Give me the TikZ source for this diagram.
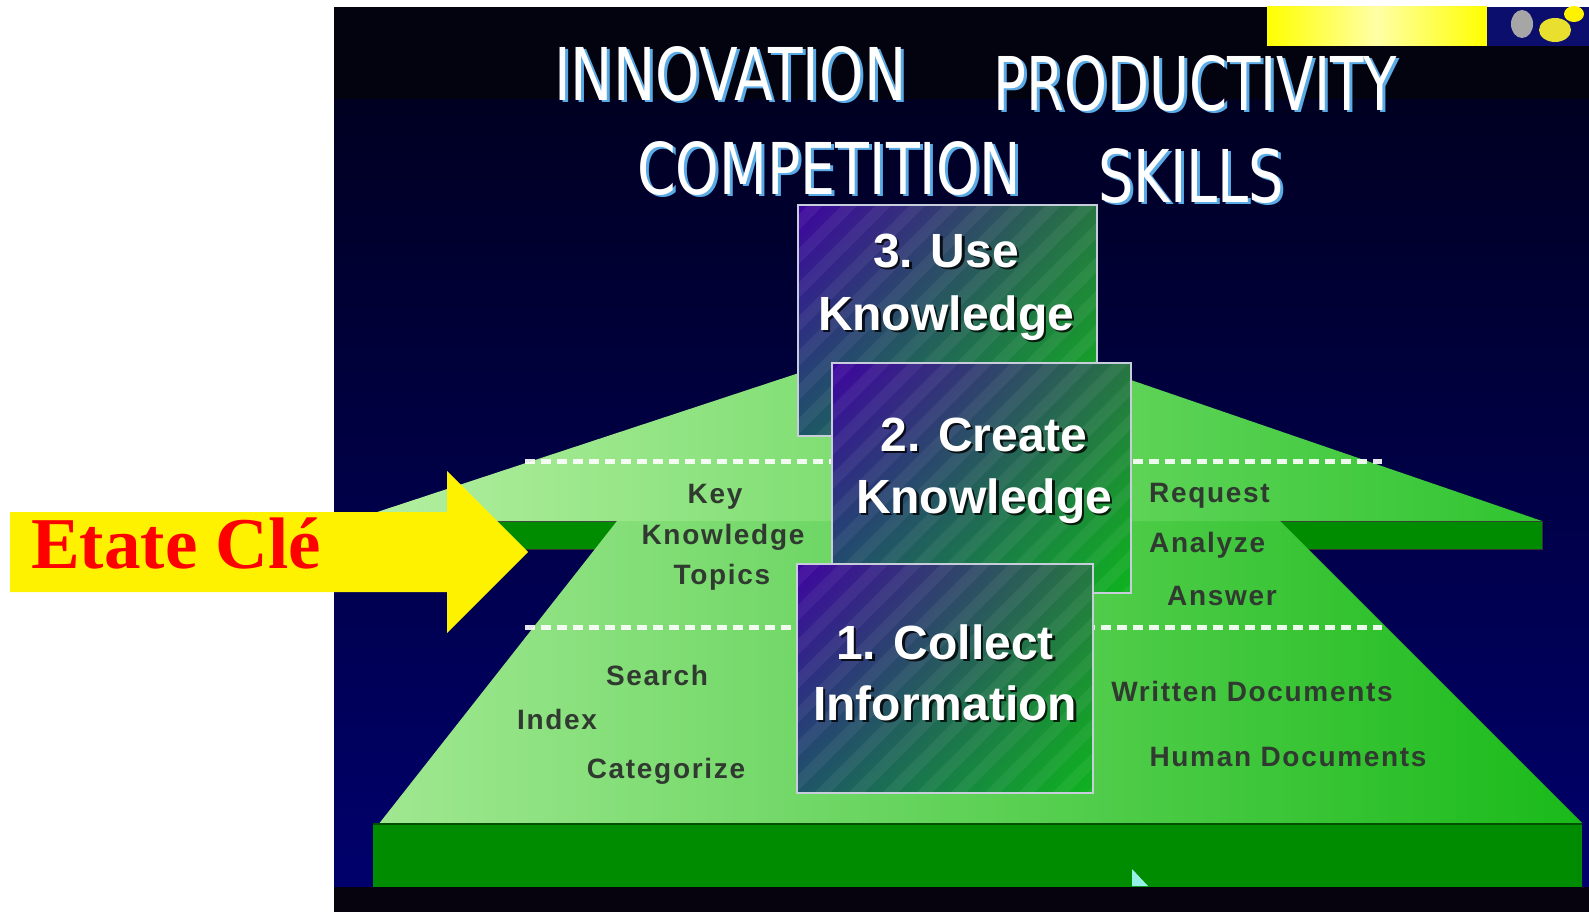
\documentclass[tikz,border=0pt]{standalone}
\usepackage{fontspec}
\usepackage{graphicx}
\usetikzlibrary{shadings}
\newfontfamily\boxfont{Liberation Sans}
\newfontfamily\lblfont[LetterSpace=6]{Liberation Sans}
\newfontfamily\redfont{Liberation Serif}
\newfontfamily\ttlfont{DejaVu Sans}
\definecolor{bgtop}{RGB}{3,3,16}
\definecolor{bgmid}{RGB}{0,0,34}
\definecolor{bgbot}{RGB}{0,0,108}
\definecolor{bgend}{RGB}{6,2,14}
\definecolor{navy}{RGB}{12,14,110}
\definecolor{tierhi}{RGB}{182,240,162}
\definecolor{tierlo}{RGB}{48,196,48}
\definecolor{lowhi}{RGB}{160,232,145}
\definecolor{lowlo}{RGB}{26,186,26}
\definecolor{slab}{RGB}{0,140,0}
\definecolor{slabrim}{RGB}{0,80,0}
\definecolor{boxul}{RGB}{62,4,160}
\definecolor{boxur}{RGB}{38,118,66}
\definecolor{boxll}{RGB}{30,84,104}
\definecolor{boxlr}{RGB}{14,180,30}
\definecolor{boxrim}{RGB}{200,205,220}
\definecolor{lbltxt}{RGB}{48,58,48}
\definecolor{ttlshade}{RGB}{90,170,230}
\definecolor{cursorcol}{RGB}{150,240,230}
\begin{document}
\begin{tikzpicture}[x=1pt,y=-1pt,
  boxtxt/.style={anchor=base,inner sep=0pt,text=white,font=\boxfont\bfseries\fontsize{48}{50}\selectfont},
  boxshadow/.style={boxtxt,text=black,opacity=.8},
  lbl/.style={anchor=base,inner sep=0pt,text=lbltxt,font=\lblfont\bfseries\fontsize{28}{30}\selectfont},
  dashline/.style={white,line width=5pt,dash pattern=on 10pt off 6pt,opacity=.9},
  boxedge/.style={draw=boxrim,line width=1.5pt},
  ttl/.style={anchor=south west,inner sep=0pt,text=white,font=\ttlfont},
  ttlback/.style={ttl,text=ttlshade}]
\useasboundingbox (0,0) rectangle (1589,912);
\newcommand\kbox[4]{
\begin{scope}
\clip (#1,#2) rectangle (#3,#4);
\shade[upper left=boxul,upper right=boxur,lower left=boxll,lower right=boxlr] (#1,#2) rectangle (#3,#4);
\foreach \s in {0,34,...,640}
  \draw[white,opacity=.06,line width=11pt] (#1-320+\s,#4+5) -- ++(330,-330);
\end{scope}
\draw[boxedge] (#1,#2) rectangle (#3,#4);
}
\newcommand\ttlword[6]{
\node[ttlback] (#1-back) at (#2+3,#3+2) {\resizebox{#4pt}{#5pt}{#6}};
\node[ttl] (#1) at (#2,#3) {\resizebox{#4pt}{#5pt}{#6}};
}
% background
\fill[white] (0,0) rectangle (1589,912);
\fill[bgtop] (334,7) rectangle (1589,100);
\shade[top color=bgmid,bottom color=bgbot] (334,100) rectangle (1589,887);
\fill[bgend] (334,887) rectangle (1589,912);
% corner picture
\shade[left color=yellow,right color=yellow,middle color=yellow!35!white] (1267,7) rectangle (1487,46);
\fill[navy] (1487,7) rectangle (1589,46);
\fill[gray!70] (1522,24) ellipse (11 and 14);
\fill[yellow!80!gray] (1555,30) ellipse (16 and 12);
\fill[yellow] (1574,14) ellipse (10 and 8);
% pyramid
\fill[slab,draw=black!80,line width=1pt] (350,521) rectangle (1542,549);
\shade[left color=lowhi,right color=lowlo] (617,521) -- (1280,521) -- (1582,823) -- (378,825) -- cycle;
\fill[slab] (373,823) rectangle (1582,887);
\draw[slabrim,line width=2.5pt] (373,824) -- (1582,824);
\shade[left color=tierhi,right color=tierlo] (805,371) -- (350,521) -- (1542,521) -- (1125,378) -- cycle;
\draw[dashline] (525,461) -- (1382,461);
\draw[dashline] (525,627) -- (1382,627);
% labels
\node[lbl] (key) at (715,503) {Key};
\node[lbl] (keyknow) at (723,544) {Knowledge};
\node[lbl] (topics) at (722,584) {Topics};
\node[lbl,anchor=base west] (request) at (1149,502) {Request};
\node[lbl,anchor=base west] (analyze) at (1149,552) {Analyze};
\node[lbl,anchor=base west] (answer) at (1167,605) {Answer};
\node[lbl] (search) at (657,685) {Search};
\node[lbl] (index) at (557,729) {Index};
\node[lbl] (categorize) at (666,778) {Categorize};
\node[lbl] (written) at (1252,701) {Written Documents};
\node[lbl] (human) at (1288,766) {Human Documents};
% steps
\kbox{798}{205}{1097}{436}
\node[boxshadow] at (948.5,269.5) {3. Use};
\node[boxtxt] (use1) at (946,267) {3. Use};
\node[boxshadow] at (948.5,332.5) {Knowledge};
\node[boxtxt] (use2) at (946,330) {Knowledge};
\kbox{832}{363}{1131}{593}
\node[boxshadow] at (986.5,453.5) {2. Create};
\node[boxtxt] (create1) at (984,451) {2. Create};
\node[boxshadow] at (986.5,515.5) {Knowledge};
\node[boxtxt] (create2) at (984,513) {Knowledge};
\kbox{797}{564}{1093}{793}
\node[boxshadow] at (947.5,661.5) {1. Collect};
\node[boxtxt] (collect1) at (945,659) {1. Collect};
\node[boxshadow] at (947.5,722.5) {Information};
\node[boxtxt] (collect2) at (945,720) {Information};
% title words
\ttlword{innovation}{554}{102}{352}{54}{INNOVATION}
\ttlword{productivity}{993}{112}{404}{55}{PRODUCTIVITY}
\ttlword{competition}{637}{196}{384}{53}{COMPETITION}
\ttlword{skills}{1098}{204}{186}{54}{SKILLS}
% cursor
\fill[cursorcol] (1132,869) -- (1148,886) -- (1132,886) -- cycle;
% arrow
\fill[yellow] (10,512) -- (447,512) -- (447,471) -- (528,552) -- (447,633) -- (447,592) -- (10,592) -- cycle;
\node[anchor=base west,inner sep=0pt,text=red,font=\redfont\bfseries\fontsize{73}{76}\selectfont] (etate) at (31,568) {Etate Clé};
\end{tikzpicture}
\end{document}
